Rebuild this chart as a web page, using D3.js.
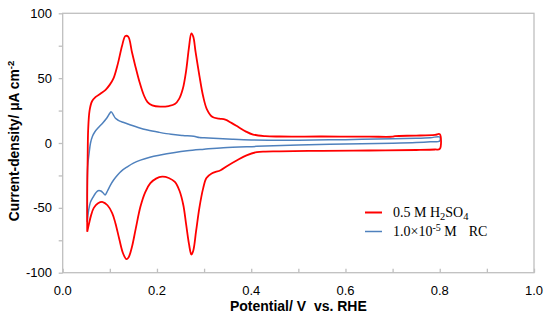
<!DOCTYPE html>
<html>
<head>
<meta charset="utf-8">
<script src="https://cdn.jsdelivr.net/npm/d3@7"></script>
<style>
body { margin: 0; background: #fff; }
text { font-family: "Liberation Sans", Arial, sans-serif; }
</style>
</head>
<body>
<svg id="chart" width="550" height="322"></svg>
<script>
// potential (V vs RHE), current density (uA cm-2)
var redForward = [[0.052,-68.5],[0.052,-40],[0.053,-10],[0.054,10],[0.057,25],[0.062,32],[0.070,35.5],[0.080,38],[0.091,41],[0.100,45],[0.108,50],[0.117,61],[0.126,75],[0.133,82.5],[0.139,82],[0.147,70],[0.155,58],[0.163,47],[0.172,37],[0.180,31.5],[0.190,29],[0.207,28],[0.225,28.5],[0.238,30],[0.247,34],[0.255,42],[0.262,56],[0.268,74],[0.273,84.5],[0.277,82],[0.282,70],[0.290,52],[0.298,36],[0.306,26],[0.318,20],[0.332,18.8],[0.345,18],[0.358,15.5],[0.372,12.5],[0.388,9],[0.404,6.5],[0.43,5.3],[0.46,5],[0.55,5],[0.65,4.9],[0.70,4.9],[0.705,5.3],[0.75,5.7],[0.79,6.3],[0.80,6.8]];
var redBackward = [[0.80,-4.6],[0.79,-5],[0.75,-5.4],[0.65,-5.8],[0.55,-6],[0.46,-6.5],[0.43,-6.6],[0.412,-7],[0.39,-9.5],[0.369,-13.5],[0.35,-17.5],[0.335,-21],[0.316,-23.5],[0.305,-27],[0.298,-35],[0.290,-50],[0.283,-68],[0.277,-83],[0.273,-86],[0.268,-78],[0.262,-63],[0.256,-48],[0.248,-37],[0.238,-30],[0.225,-27],[0.211,-26],[0.198,-27.5],[0.186,-31],[0.175,-38],[0.165,-49],[0.155,-66],[0.147,-80],[0.140,-88],[0.135,-89.5],[0.128,-85],[0.120,-74],[0.112,-62],[0.105,-54],[0.095,-48],[0.085,-45.5],[0.075,-46.5],[0.066,-50],[0.060,-56],[0.056,-62],[0.052,-68.5]];
var blueForward = [[0.052,-61],[0.052,-40],[0.053,-18],[0.056,-8],[0.059,0],[0.063,5],[0.068,8.5],[0.076,12],[0.085,15.5],[0.094,19.5],[0.100,23],[0.103,24],[0.107,22],[0.112,19],[0.118,17.5],[0.128,16],[0.140,14.5],[0.160,12],[0.180,10],[0.205,8.2],[0.230,6.7],[0.255,5.8],[0.278,5.2],[0.290,4.2],[0.300,4],[0.33,3.4],[0.36,2.9],[0.40,2.4],[0.45,2.2],[0.50,2.2],[0.60,2.6],[0.70,3.3],[0.75,3.7],[0.78,4.1],[0.80,4.6]];
var blueBackward = [[0.80,1.6],[0.78,0.9],[0.75,0.3],[0.70,-0.2],[0.60,-0.8],[0.50,-1.5],[0.412,-2.6],[0.341,-3.6],[0.30,-4.8],[0.264,-6],[0.235,-7.5],[0.207,-9.3],[0.185,-11],[0.165,-13.2],[0.15,-15.5],[0.137,-18.4],[0.125,-21.5],[0.116,-24.8],[0.108,-28.5],[0.101,-32.6],[0.095,-37],[0.090,-40],[0.086,-38.5],[0.081,-37],[0.075,-36.8],[0.070,-38.5],[0.064,-42],[0.059,-45.5],[0.055,-52],[0.052,-61]];

var xTicks = [0, 0.2, 0.4, 0.6, 0.8, 1.0];
var xMinor = [0.1, 0.3, 0.5, 0.7, 0.9];
var yTicks = [-100, -50, 0, 50, 100];
var yMinor = [-75, -25, 25, 75];

function drawChart() {
  var svg = d3.select("#chart");
  var pl = 62.7, pr = 534, pt = 13.3, pb = 272.7;

  var x = d3.scaleLinear().domain([0, 1]).range([pl, pr]);
  var y = d3.scaleLinear().domain([-100, 100]).range([pb, pt]);

  var frame = "#bfbfbf";

  svg.append("rect")
      .attr("x", pl).attr("y", pt)
      .attr("width", pr - pl).attr("height", pb - pt)
      .attr("fill", "none").attr("stroke", frame).attr("stroke-width", 1.3);

  // y axis ticks (outward)
  var yAxis = svg.append("g").attr("transform", "translate(" + pl + ",0)")
      .call(d3.axisLeft(y).tickValues(yTicks.concat(yMinor)).tickSize(4).tickFormat(""));
  yAxis.select(".domain").remove();
  yAxis.selectAll("line").attr("stroke", frame).attr("stroke-width", 1.3);

  svg.append("g").selectAll("text").data(yTicks).enter().append("text")
      .attr("x", 52).attr("y", function(d) { return y(d) + 4.5; })
      .attr("text-anchor", "end").attr("font-size", 13).attr("fill", "#000")
      .text(function(d) { return d; });

  // x axis ticks (inward)
  var xAxis = svg.append("g").attr("transform", "translate(0," + pb + ")")
      .call(d3.axisTop(x).tickValues(xTicks.concat(xMinor)).tickSize(4).tickFormat(""));
  xAxis.select(".domain").remove();
  xAxis.selectAll("line").attr("stroke", frame).attr("stroke-width", 1.3);

  svg.append("g").selectAll("text").data(xTicks).enter().append("text")
      .attr("x", function(d) { return x(d); }).attr("y", 295)
      .attr("text-anchor", "middle").attr("font-size", 13).attr("fill", "#000")
      .text(function(d) { return d3.format(".1f")(d); });

  svg.append("text")
      .attr("x", (pl + pr) / 2).attr("y", 311)
      .attr("text-anchor", "middle").attr("font-size", 14).attr("font-weight", "bold")
      .attr("xml:space", "preserve")
      .text("Potential/ V  vs. RHE");

  svg.append("text")
      .attr("transform", "translate(19,141) rotate(-90)")
      .attr("text-anchor", "middle").attr("font-size", 13.8).attr("font-weight", "bold")
      .html('Current-density/ μA cm<tspan font-size="9.5" dy="-5">-2</tspan>');

  var line = d3.line()
      .x(function(d) { return x(d[0]); })
      .y(function(d) { return y(d[1]); })
      .curve(d3.curveCatmullRom.alpha(0.5));

  svg.append("path")
      .datum(blueForward.concat(blueBackward))
      .attr("d", line).attr("fill", "none")
      .attr("stroke", "#4f81bd").attr("stroke-width", 1.5);

  svg.append("path")
      .datum(redForward.concat(redBackward))
      .attr("d", line).attr("fill", "none")
      .attr("stroke", "#ff0000").attr("stroke-width", 1.8);

  // legend
  var legend = svg.append("g");
  legend.append("line").attr("x1", 365).attr("x2", 382).attr("y1", 212.5).attr("y2", 212.5)
      .attr("stroke", "#ff0000").attr("stroke-width", 2);
  legend.append("line").attr("x1", 365).attr("x2", 382).attr("y1", 231.5).attr("y2", 231.5)
      .attr("stroke", "#4f81bd").attr("stroke-width", 1.5);
  legend.append("text").attr("x", 393).attr("y", 217).attr("font-size", 14)
      .style("font-family", "'Liberation Serif', serif")
      .html('0.5 M H<tspan font-size="10.5" dy="3">2</tspan><tspan dy="-3">SO</tspan><tspan font-size="10.5" dy="3">4</tspan>');
  legend.append("text").attr("x", 393).attr("y", 236).attr("font-size", 14)
      .style("font-family", "'Liberation Serif', serif")
      .html('1.0×10<tspan font-size="10" dy="-5">-5</tspan><tspan dy="5"> M</tspan><tspan dx="12">RC</tspan>');
}

drawChart();
</script>
</body>
</html>
